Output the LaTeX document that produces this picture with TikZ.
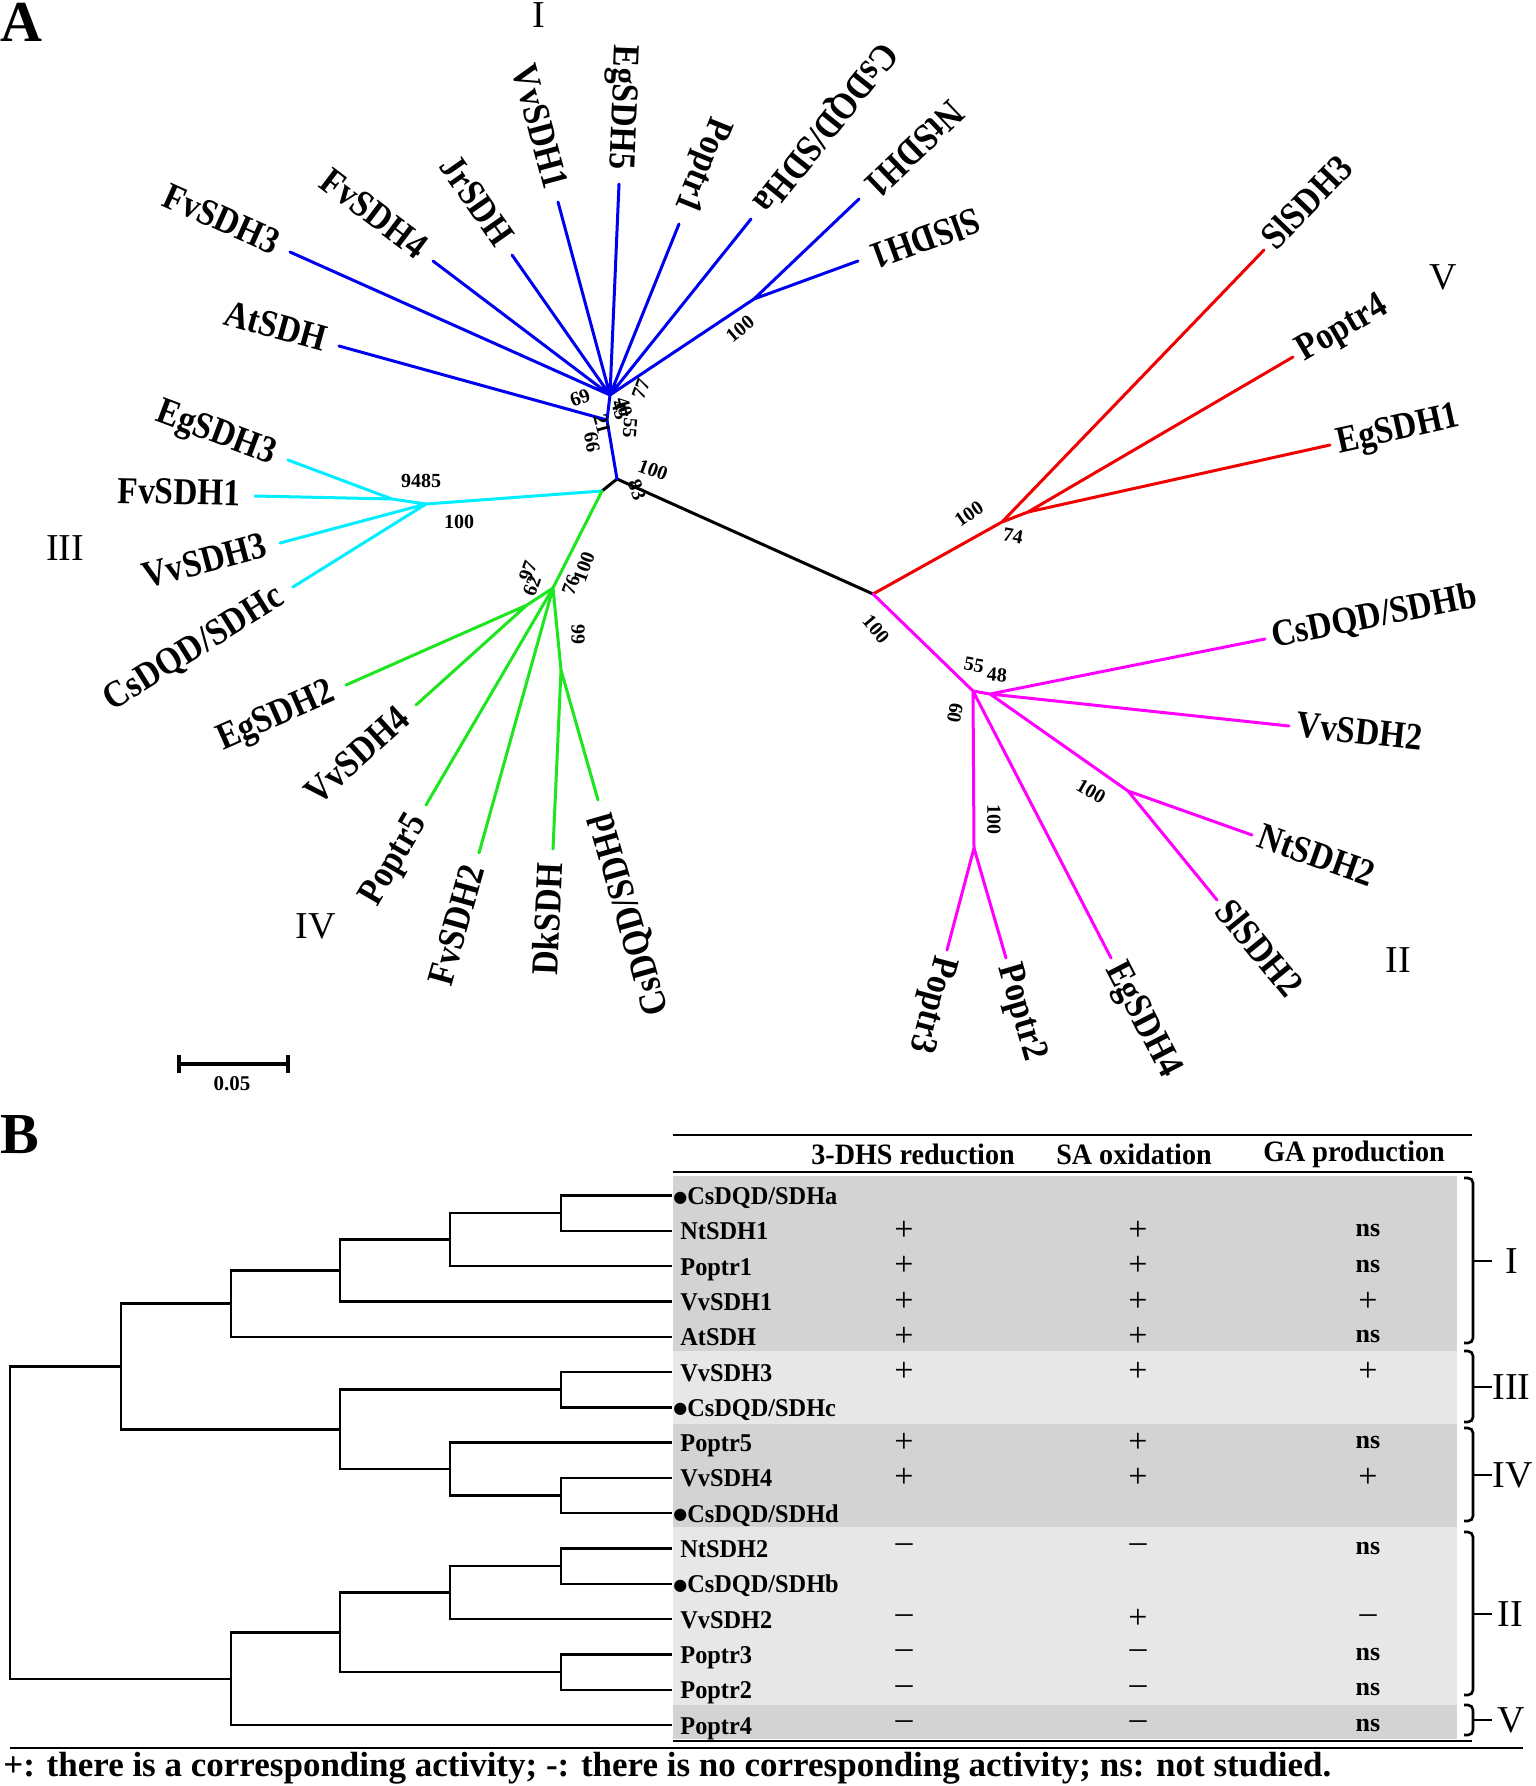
\documentclass[tikz,border=0pt]{standalone}
\usepackage{fontspec}
\setmainfont{Liberation Serif}
\newfontfamily\leaffont[FakeStretch=0.88]{Liberation Serif}
\newfontfamily\tabfont[FakeStretch=0.95]{Liberation Serif}
\newfontfamily\symfont{DejaVu Sans}
\definecolor{cblue}{RGB}{0,0,240}
\definecolor{ccyan}{RGB}{0,238,255}
\definecolor{cgreen}{RGB}{30,230,30}
\definecolor{cred}{RGB}{240,0,0}
\definecolor{cmag}{RGB}{255,0,255}
\definecolor{darkband}{RGB}{211,211,211}
\definecolor{lightband}{RGB}{232,231,232}
\newcommand\leafL[4][]{%
  \pgfmathanglebetweenpoints{\pgfpointanchor{#2}{center}}{\pgfpointanchor{#3}{center}}%
  \edef\tmpang{\pgfmathresult}%
  \pgfmathsetmacro\myang{\tmpang+180}%
  \node[leaf,inner xsep=7pt,rotate=\myang,anchor=east,#1] (t#3) at (#3) {#4};}
\newcommand\leafR[4][]{%
  \pgfmathanglebetweenpoints{\pgfpointanchor{#2}{center}}{\pgfpointanchor{#3}{center}}%
  \edef\tmpang{\pgfmathresult}%
  \node[leaf,inner xsep=3.5pt,rotate=\tmpang,anchor=west,#1] (t#3) at (#3) {#4};}
\newcommand\rowvals[5]{%
  \node[pm] (a#1) at (904,#2) {#3};
  \node[pm] (b#1) at (1138,#2) {#4};
  \node[pm] (c#1) at (1368,#2) {#5};}
\newcommand\mybrk[4]{%
  \draw[brk] (1464,#1) -- (1473,#1) -- (1473,#2) -- (1464,#2);
  \draw[line width=1.3pt] (1473,#3) -- (1492,#3);}
\newcommand\dotmark{\raisebox{1.2pt}{\symfont\fontsize{8}{8}\selectfont ●}}
\newcommand\nsmark{{\bfseries\fontsize{13}{13}\selectfont ns}}
\begin{document}
\begin{tikzpicture}[x=0.5pt,y=-0.5pt,
  br/.style={line width=1.5pt,line cap=round},
  leaf/.style={font=\leaffont\bfseries\fontsize{19}{19}\selectfont,inner ysep=2pt,text height=10pt,text depth=0pt},
  bsv/.style={font=\bfseries\fontsize{10}{10}\selectfont,inner sep=0pt},
  clade/.style={font=\fontsize{19}{19}\selectfont,inner sep=0pt},
  dend/.style={line width=1.2pt},
  rule/.style={line width=1.4pt},
  tabtxt/.style={font=\tabfont\bfseries\fontsize{12.8}{12.8}\selectfont,inner sep=0pt,anchor=west,text height=9pt,text depth=0pt},
  hdr/.style={font=\tabfont\bfseries\fontsize{14.8}{14.8}\selectfont,inner sep=0pt},
  pm/.style={font=\fontsize{17}{17}\selectfont,inner sep=0pt},
  brk/.style={line width=1.3pt,rounded corners=2.5pt},
]
\fill[white] (0,0) rectangle (1535,1786);
\useasboundingbox (0,0) rectangle (1535,1786);

% ---------- panel A ----------
\node[font=\bfseries\fontsize{29}{29}\selectfont,anchor=base west,inner sep=0pt] (pA) at (0,42) {A};

\coordinate (R) at (617,479);
\coordinate (Q) at (602,491);
\coordinate (J) at (873,594);
% blue
\coordinate (bA) at (607,420);
\coordinate (bF) at (610,395);
\coordinate (bS) at (754,299);
\coordinate (lfv3) at (290,252);
\coordinate (lfv4) at (433,261);
\coordinate (ljr) at (512,255);
\coordinate (lvv1) at (558,202);
\coordinate (leg5) at (619,184);
\coordinate (lpo1) at (679,224);
\coordinate (lcsa) at (751,219);
\coordinate (lnt1) at (859,199);
\coordinate (lsl1) at (858,261);
\coordinate (lat) at (339,346);
% cyan
\coordinate (c0) at (426,504);
\coordinate (c1) at (392,499);
\coordinate (leg3) at (288,460);
\coordinate (lfv1) at (255,496);
\coordinate (lvv3) at (280,543);
\coordinate (lcsc) at (293,587);
% green
\coordinate (g0) at (553,588);
\coordinate (g1) at (527,605);
\coordinate (g2) at (561,670);
\coordinate (leg2) at (346,685);
\coordinate (lvv4) at (416,705);
\coordinate (lpo5) at (426,805);
\coordinate (lfv2) at (479,853);
\coordinate (ldk) at (553,849);
\coordinate (lcsd) at (598,800);
% red
\coordinate (r0) at (1002,522);
\coordinate (r1) at (1028,512);
\coordinate (lsl3) at (1264,250);
\coordinate (lpo4) at (1293,357);
\coordinate (leg1) at (1330,445);
% magenta
\coordinate (m1) at (973,691);
\coordinate (m2) at (990,694);
\coordinate (m3) at (974,848);
\coordinate (m4) at (1128,791);
\coordinate (lcsb) at (1265,639);
\coordinate (lvv2) at (1289,726);
\coordinate (lnt2) at (1252,835);
\coordinate (lsl2) at (1217,900);
\coordinate (leg4) at (1111,958);
\coordinate (lpo3) at (947,950);
\coordinate (lpo2) at (1006,958);

\draw[br,black] (Q) -- (R) -- (J);
\draw[br,cblue] (R) -- (bA) -- (bF);
\draw[br,cblue] (bA) -- (lat);
\draw[br,cblue] (bF) -- (lfv3) (bF) -- (lfv4) (bF) -- (ljr) (bF) -- (lvv1) (bF) -- (leg5) (bF) -- (lpo1) (bF) -- (lcsa) (bF) -- (bS);
\draw[br,cblue] (bS) -- (lnt1) (bS) -- (lsl1);
\draw[br,ccyan] (Q) -- (c0) -- (c1) -- (leg3) (c1) -- (lfv1) (c0) -- (lvv3) (c0) -- (lcsc);
\draw[br,cgreen] (Q) -- (g0) -- (g1) -- (leg2) (g1) -- (lvv4) (g0) -- (lpo5) (g0) -- (lfv2) (g0) -- (g2) -- (ldk) (g2) -- (lcsd);
\draw[br,cred] (J) -- (r0) -- (lsl3) (r0) -- (r1) -- (lpo4) (r1) -- (leg1);
\draw[br,cmag] (J) -- (m1) -- (m2) -- (lcsb) (m2) -- (lvv2) (m2) -- (m4) -- (lnt2) (m4) -- (lsl2) (m1) -- (leg4) (m1) -- (m3) -- (lpo3) (m3) -- (lpo2);

% leaf labels
\leafL{bF}{lfv3}{FvSDH3}
\leafL{bF}{lfv4}{FvSDH4}
\leafL{bF}{ljr}{JrSDH}
\leafL{bF}{lvv1}{VvSDH1}
\leafL{bF}{leg5}{EgSDH5}
\leafL{bF}{lpo1}{Poptr1}
\leafL{bF}{lcsa}{CsDQD/SDHa}
\leafL{bS}{lnt1}{NtSDH1}
\leafL{bS}{lsl1}{SlSDH1}
\leafL{bA}{lat}{AtSDH}
\leafL{c1}{leg3}{EgSDH3}
\leafL{c1}{lfv1}{FvSDH1}
\leafL{c0}{lvv3}{VvSDH3}
\leafL{c0}{lcsc}{CsDQD/SDHc}
\leafL{g1}{leg2}{EgSDH2}
\leafL{g1}{lvv4}{VvSDH4}
\leafL{g0}{lpo5}{Poptr5}
\leafL{g0}{lfv2}{FvSDH2}
\leafL{g2}{ldk}{DkSDH}
\leafL{g2}{lcsd}{CsDQD/SDHd}
\leafR{r0}{lsl3}{SlSDH3}
\leafR{r1}{lpo4}{Poptr4}
\leafR{r1}{leg1}{EgSDH1}
\leafR{m2}{lcsb}{CsDQD/SDHb}
\leafR{m2}{lvv2}{VvSDH2}
\leafR{m4}{lnt2}{NtSDH2}
\leafR{m4}{lsl2}{SlSDH2}
\leafR{m1}{leg4}{EgSDH4}
\leafR{m3}{lpo3}{Poptr3}
\leafR{m3}{lpo2}{Poptr2}

% bootstrap values
\node[bsv,rotate=200] (bs1) at (580,398) {69};
\node[bsv,rotate=-75] (bs2) at (602,424) {21};
\node[bsv,rotate=-80] (bs3) at (592,442) {66};
\node[bsv,rotate=-75] (bs4) at (620,410) {45};
\node[bsv,rotate=-75] (bs5) at (624,407) {40};
\node[bsv,rotate=-95] (bs6) at (630,428) {55};
\node[bsv,rotate=70] (bs7) at (641,389) {77};
\node[bsv,rotate=-20] (bs8) at (653,470) {100};
\node[bsv,rotate=-70] (bs9) at (637,490) {83};
\node[bsv] (bs10) at (421,481) {9485};
\node[bsv] (bs11) at (459,522) {100};
\node[bsv,rotate=70] (bs12) at (528,571) {97};
\node[bsv,rotate=70] (bs13) at (532,586) {62};
\node[bsv,rotate=70] (bs14) at (571,585) {76};
\node[bsv,rotate=70] (bs15) at (584,567) {100};
\node[bsv,rotate=90] (bs16) at (578,634) {66};
\node[bsv,rotate=40] (bs17) at (740,329) {100};
\node[bsv,rotate=35] (bs18) at (969,514) {100};
\node[bsv,rotate=-10] (bs19) at (1013,536) {74};
\node[bsv,rotate=-50] (bs20) at (876,629) {100};
\node[bsv,rotate=-10] (bs21) at (974,665) {55};
\node[bsv,rotate=-5] (bs22) at (997,675) {48};
\node[bsv,rotate=-100] (bs23) at (955,713) {60};
\node[bsv,rotate=-90] (bs24) at (994,819) {100};
\node[bsv,rotate=-30] (bs25) at (1091,791) {100};

% clade numerals
\node[clade] (cI) at (539,15) {I};
\node[clade] (cV) at (1443,277) {V};
\node[clade] (cIII) at (65,548) {III};
\node[clade] (cIV) at (316,926) {IV};
\node[clade] (cII) at (1398,960) {II};

% scale bar
\coordinate (sb1) at (179,1064);
\coordinate (sb2) at (288,1064);
\draw[line width=1.8pt] (sb1) -- (sb2);
\draw[line width=1.8pt] (179,1055) -- (179,1073);
\draw[line width=1.8pt] (288,1055) -- (288,1073);
\node[bsv,font=\bfseries\fontsize{10.5}{10.5}\selectfont] (sbl) at (232,1084) {0.05};

% ---------- panel B ----------
\node[font=\bfseries\fontsize{29}{29}\selectfont,anchor=base west,inner sep=0pt] (pB) at (0,1153) {B};

\fill[darkband] (673,1176) rectangle (1457,1351);
\fill[lightband] (673,1351) rectangle (1457,1424);
\fill[darkband] (673,1424) rectangle (1457,1527);
\fill[lightband] (673,1527) rectangle (1457,1705);
\fill[darkband] (673,1705) rectangle (1457,1739);

\draw[rule] (673,1135) -- (1472,1135);
\draw[rule] (673,1172) -- (1472,1172);
\draw[line width=1.2pt] (673,1741) -- (1472,1741);
\draw[line width=1.2pt] (10,1748) -- (1523,1748);

\node[hdr] (h1) at (913,1154) {3-DHS reduction};
\node[hdr] (h2) at (1134,1154) {SA oxidation};
\node[hdr] (h3) at (1354,1154) {GA production};

% leaf ends of the dendrogram
\coordinate (L0) at (672,1195.5);
\coordinate (L1) at (672,1230.8);
\coordinate (L2) at (672,1266.1);
\coordinate (L3) at (672,1301.4);
\coordinate (L4) at (672,1336.7);
\coordinate (L5) at (672,1372.0);
\coordinate (L6) at (672,1407.3);
\coordinate (L7) at (672,1442.6);
\coordinate (L8) at (672,1477.9);
\coordinate (L9) at (672,1513.2);
\coordinate (L10) at (672,1548.5);
\coordinate (L11) at (672,1583.8);
\coordinate (L12) at (672,1619.1);
\coordinate (L13) at (672,1654.4);
\coordinate (L14) at (672,1689.7);
\coordinate (L15) at (672,1725.0);
% internal nodes
\coordinate (na) at (561,1213.15);
\coordinate (nb) at (450,1239.6);
\coordinate (nc) at (340,1270.5);
\coordinate (nd) at (231,1303.6);
\coordinate (ne) at (561,1389.65);
\coordinate (nf) at (561,1495.55);
\coordinate (ng) at (450,1469.1);
\coordinate (nh) at (340,1429.4);
\coordinate (ni) at (121,1366.5);
\coordinate (nj) at (561,1566.15);
\coordinate (nk) at (450,1592.6);
\coordinate (nl) at (561,1672.05);
\coordinate (nm) at (340,1632.3);
\coordinate (nn) at (231,1678.7);
\coordinate (nr) at (10,1522.6);

\draw[dend] (na) |- (L0) (na) |- (L1);
\draw[dend] (nb) |- (na) (nb) |- (L2);
\draw[dend] (nc) |- (nb) (nc) |- (L3);
\draw[dend] (nd) |- (nc) (nd) |- (L4);
\draw[dend] (ne) |- (L5) (ne) |- (L6);
\draw[dend] (nf) |- (L8) (nf) |- (L9);
\draw[dend] (ng) |- (L7) (ng) |- (nf);
\draw[dend] (nh) |- (ne) (nh) |- (ng);
\draw[dend] (ni) |- (nd) (ni) |- (nh);
\draw[dend] (nj) |- (L10) (nj) |- (L11);
\draw[dend] (nk) |- (nj) (nk) |- (L12);
\draw[dend] (nl) |- (L13) (nl) |- (L14);
\draw[dend] (nm) |- (nk) (nm) |- (nl);
\draw[dend] (nn) |- (nm) (nn) |- (L15);
\draw[dend] (nr) |- (ni) (nr) |- (nn);

% row names
\node[tabtxt] (nm0) at (673,1195.5) {\dotmark CsDQD/SDHa};
\node[tabtxt] (nm1) at (680,1230.8) {NtSDH1};
\node[tabtxt] (nm2) at (680,1266.1) {Poptr1};
\node[tabtxt] (nm3) at (680,1301.4) {VvSDH1};
\node[tabtxt] (nm4) at (680,1336.7) {AtSDH};
\node[tabtxt] (nm5) at (680,1372.0) {VvSDH3};
\node[tabtxt] (nm6) at (673,1407.3) {\dotmark CsDQD/SDHc};
\node[tabtxt] (nm7) at (680,1442.6) {Poptr5};
\node[tabtxt] (nm8) at (680,1477.9) {VvSDH4};
\node[tabtxt] (nm9) at (673,1513.2) {\dotmark CsDQD/SDHd};
\node[tabtxt] (nm10) at (680,1548.5) {NtSDH2};
\node[tabtxt] (nm11) at (673,1583.8) {\dotmark CsDQD/SDHb};
\node[tabtxt] (nm12) at (680,1619.1) {VvSDH2};
\node[tabtxt] (nm13) at (680,1654.4) {Poptr3};
\node[tabtxt] (nm14) at (680,1689.7) {Poptr2};
\node[tabtxt] (nm15) at (680,1725.0) {Poptr4};

% values
\rowvals{1}{1230.8}{+}{+}{\nsmark}
\rowvals{2}{1266.1}{+}{+}{\nsmark}
\rowvals{3}{1301.4}{+}{+}{+}
\rowvals{4}{1336.7}{+}{+}{\nsmark}
\rowvals{5}{1372.0}{+}{+}{+}
\rowvals{7}{1442.6}{+}{+}{\nsmark}
\rowvals{8}{1477.9}{+}{+}{+}
\rowvals{10}{1548.5}{–}{–}{\nsmark}
\rowvals{12}{1619.1}{–}{+}{–}
\rowvals{13}{1654.4}{–}{–}{\nsmark}
\rowvals{14}{1689.7}{–}{–}{\nsmark}
\rowvals{15}{1725.0}{–}{–}{\nsmark}

% brackets and group labels
\mybrk{1178}{1343}{1261}{I}
\mybrk{1351}{1422}{1387}{III}
\mybrk{1428}{1521}{1475}{IV}
\mybrk{1532}{1695}{1614}{II}
\mybrk{1705}{1735}{1720}{V}
\node[clade] (gI) at (1512,1261) {I};
\node[clade,anchor=west] (gIII) at (1492,1387) {III};
\node[clade,anchor=west] (gIV) at (1492,1475) {IV};
\node[clade] (gII) at (1510,1614) {II};
\node[clade] (gV) at (1511,1720) {V};

% footnote
\node[font=\bfseries\fontsize{17.5}{17.5}\selectfont,anchor=west,inner sep=0pt] (foot) at (3,1768) {+: there is a corresponding activity; -: there is no corresponding activity; ns: not studied.};
\end{tikzpicture}
\end{document}
